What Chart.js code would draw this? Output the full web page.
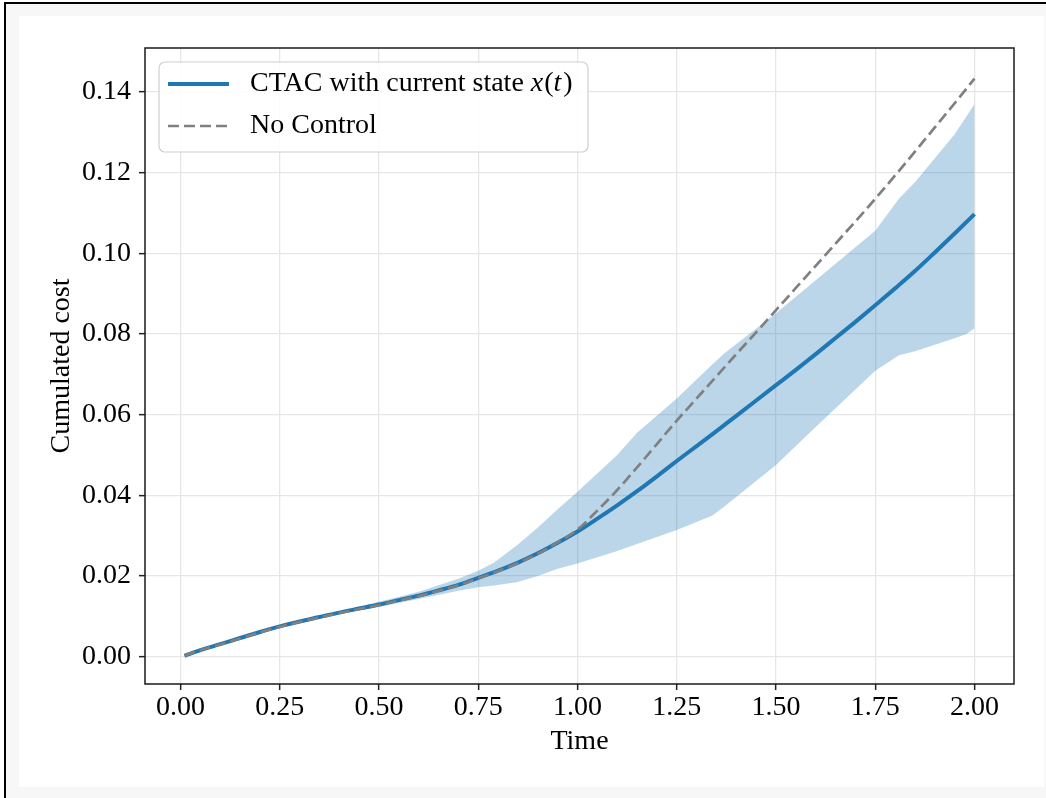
<!DOCTYPE html>
<html>
<head>
<meta charset="utf-8">
<title>Cumulated cost</title>
<script src="https://cdn.jsdelivr.net/npm/chart.js@4.4.1/dist/chart.umd.min.js"></script>
<style>
  html, body { margin: 0; padding: 0; background: #fff; overflow: hidden; }
  #frame { position: absolute; left: 4px; top: 2px; width: 1100px; height: 900px;
           border: 2px solid #000; background: #f7f7f7; }
  #panel { position: absolute; left: 13px; top: 12px; width: 1025px; height: 771px; background: #fff; }
</style>
</head>
<body>
<div id="frame">
  <div id="panel"><canvas id="costChart" width="1025" height="771"></canvas></div>
</div>
<script>
'use strict';

// time grid of the two cost curves
let timeSteps = [
  0.01, 0.05, 0.10, 0.15, 0.20, 0.25, 0.30, 0.35, 0.40, 0.45,
  0.50, 0.55, 0.60, 0.65, 0.70, 0.75, 0.80, 0.85, 0.90, 0.95,
  1.00, 1.05, 1.10, 1.15, 1.20, 1.25, 1.30, 1.35, 1.40, 1.45,
  1.50, 1.55, 1.60, 1.65, 1.70, 1.75, 1.80, 1.85, 1.90, 1.95, 2.00
];
let ctacCost = [
  0.0002, 0.0016, 0.0031, 0.0046, 0.0061, 0.0075, 0.0087, 0.0098, 0.0109, 0.0119,
  0.0129, 0.0140, 0.0151, 0.0164, 0.0178, 0.0195, 0.0213, 0.0233, 0.0256, 0.0282,
  0.0310, 0.0342, 0.0375, 0.0410, 0.0447, 0.0485, 0.0522, 0.0559, 0.0597, 0.0635,
  0.0673, 0.0711, 0.0750, 0.0790, 0.0830, 0.0871, 0.0913, 0.0956, 0.1002, 0.1049, 0.1097
];
let noControlCost = [
  0.0002, 0.0016, 0.0030, 0.0045, 0.0060, 0.0074, 0.0086, 0.0097, 0.0108, 0.0118,
  0.0128, 0.0139, 0.0150, 0.0163, 0.0177, 0.0194, 0.0212, 0.0232, 0.0255, 0.0283,
  0.0315, 0.0362, 0.0413, 0.0469, 0.0527, 0.0585, 0.0640, 0.0695, 0.0750, 0.0804,
  0.0859, 0.0914, 0.0969, 0.1024, 0.1079, 0.1135, 0.1193, 0.1252, 0.1312, 0.1372, 0.1433
];

// spread band around the CTAC curve
let bandTime = [
  0.01, 0.25, 0.40, 0.50, 0.60, 0.70, 0.75, 0.79, 0.85, 0.90, 0.95, 1.00,
  1.10, 1.15, 1.25, 1.34, 1.37, 1.50, 1.60, 1.75, 1.81, 1.85, 1.95, 1.98, 2.00
];
let bandUpper = [
  0.0002, 0.0076, 0.0112, 0.0136, 0.0161, 0.0193, 0.0213, 0.0233, 0.0278, 0.0320, 0.0365, 0.0409,
  0.0500, 0.0555, 0.0640, 0.0725, 0.0752, 0.0851, 0.0933, 0.1056, 0.1136, 0.1176, 0.1295, 0.1340, 0.1370
];
let bandLower = [
  0.0002, 0.0074, 0.0106, 0.0123, 0.0143, 0.0163, 0.0172, 0.0176, 0.0185, 0.0200, 0.0218, 0.0231,
  0.0262, 0.0279, 0.0314, 0.0350, 0.0372, 0.0475, 0.0569, 0.0709, 0.0747, 0.0757, 0.0789, 0.0800, 0.0814
];

let xTicks = [0, 0.25, 0.5, 0.75, 1.0, 1.25, 1.5, 1.75, 2.0];
let yTicks = [0, 0.02, 0.04, 0.06, 0.08, 0.10, 0.12, 0.14];

let blue = '#1f77b4';
let gray = '#808080';
let serif = "'Liberation Serif', 'Times New Roman', serif";

Chart.defaults.font.family = serif;
Chart.defaults.font.size = 28;
Chart.defaults.color = '#000';

function points(xs, ys) {
  return xs.map((x, i) => ({ x: x, y: ys[i] }));
}

// draws a text made of upright and italic runs, returns end x
function drawRuns(ctx, runs, x, y) {
  for (const r of runs) {
    ctx.font = (r.italic ? 'italic ' : '') + '28px ' + serif;
    ctx.fillText(r.text, x, y);
    x += ctx.measureText(r.text).width + (r.gap || 0);
  }
  return x;
}

// frame round the plot area, like a boxed axes
const axesFrame = {
  id: 'axesFrame',
  afterDatasetsDraw(chart) {
    const ctx = chart.ctx;
    const a = chart.chartArea;
    ctx.save();
    ctx.strokeStyle = '#1a1a1a';
    ctx.lineWidth = 1.5;
    ctx.strokeRect(a.left, a.top, a.right - a.left, a.bottom - a.top);
    ctx.restore();
  }
};

// legend box in the upper left corner of the plot
const legendBox = {
  id: 'legendBox',
  afterDraw(chart) {
    const ctx = chart.ctx;
    const a = chart.chartArea;
    const x0 = a.left + 14;
    const y0 = a.top + 14;
    const w = 429, h = 90;
    ctx.save();
    ctx.beginPath();
    ctx.roundRect(x0, y0, w, h, 6);
    ctx.fillStyle = 'rgba(255,255,255,0.85)';
    ctx.fill();
    ctx.strokeStyle = '#d0d0d0';
    ctx.lineWidth = 1.2;
    ctx.stroke();

    const rows = [
      { ds: chart.data.datasets[1], y: y0 + 22,
        runs: [{ text: 'CTAC with current state ' }, { text: 'x', italic: true, gap: 1 },
               { text: '(' }, { text: 't', italic: true, gap: 2 }, { text: ')' }] },
      { ds: chart.data.datasets[0], y: y0 + 64, runs: [{ text: 'No Control' }] }
    ];
    for (const row of rows) {
      ctx.beginPath();
      ctx.strokeStyle = row.ds.borderColor;
      ctx.lineWidth = row.ds.borderWidth;
      ctx.setLineDash(row.ds.borderDash || []);
      ctx.moveTo(x0 + 9, row.y);
      ctx.lineTo(x0 + 70, row.y);
      ctx.stroke();
      ctx.setLineDash([]);
      ctx.fillStyle = '#000';
      ctx.textBaseline = 'middle';
      ctx.textAlign = 'left';
      drawRuns(ctx, row.runs, x0 + 91, row.y);
    }
    ctx.restore();
  }
};

let ctx = document.getElementById('costChart').getContext('2d');
let costChart = new Chart(ctx, {
  type: 'line',
  data: {
    datasets: [{
      label: 'No Control',
      data: points(timeSteps, noControlCost),
      borderColor: gray,
      borderWidth: 2.7,
      borderDash: [11, 5],
      pointRadius: 0,
      fill: false,
      cubicInterpolationMode: 'monotone',
      order: 0
    }, {
      label: 'CTAC with current state x(t)',
      data: points(timeSteps, ctacCost),
      borderColor: blue,
      borderWidth: 4,
      pointRadius: 0,
      fill: false,
      cubicInterpolationMode: 'monotone',
      order: 1
    }, {
      label: 'band upper',
      data: points(bandTime, bandUpper),
      borderColor: 'rgba(0,0,0,0)',
      borderWidth: 0,
      pointRadius: 0,
      backgroundColor: 'rgba(31,119,180,0.3)',
      fill: '+1',
      order: 2
    }, {
      label: 'band lower',
      data: points(bandTime, bandLower),
      borderColor: 'rgba(0,0,0,0)',
      borderWidth: 0,
      pointRadius: 0,
      fill: false,
      order: 3
    }]
  },
  options: {
    responsive: false,
    animation: false,
    devicePixelRatio: 1,
    layout: { padding: { top: 32, right: 30, left: 0, bottom: 0 } },
    plugins: {
      legend: { display: false },
      tooltip: { enabled: false }
    },
    scales: {
      x: {
        type: 'linear',
        min: -0.0895,
        max: 2.0995,
        afterBuildTicks: s => { s.ticks = xTicks.map(v => ({ value: v })); },
        afterFit: s => { s.height = 103; },
        ticks: { padding: 1, maxRotation: 0, callback: v => v.toFixed(2) },
        grid: { color: '#e6e6e6', lineWidth: 1.3, tickColor: '#222', tickWidth: 1.5, tickLength: 6 },
        border: { display: false },
        title: { display: true, text: 'Time', padding: { top: 0, bottom: 29 } }
      },
      y: {
        type: 'linear',
        min: -0.0068,
        max: 0.1509,
        afterBuildTicks: s => { s.ticks = yTicks.map(v => ({ value: v })); },
        afterFit: s => { s.width = 126; },
        ticks: { padding: 8, callback: v => v.toFixed(2) },
        grid: { color: '#e6e6e6', lineWidth: 1.3, tickColor: '#222', tickWidth: 1.5, tickLength: 6 },
        border: { display: false },
        title: { display: true, text: 'Cumulated cost', padding: { top: 26, bottom: 0 } }
      }
    }
  },
  plugins: [axesFrame, legendBox]
});
</script>
</body>
</html>
